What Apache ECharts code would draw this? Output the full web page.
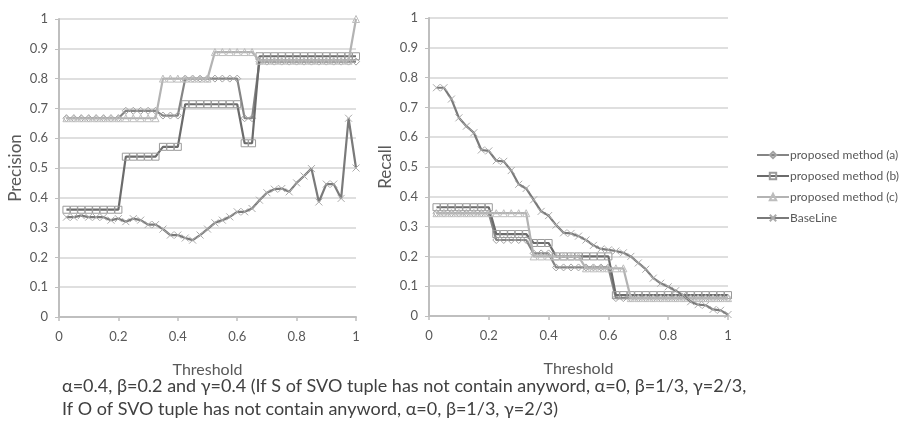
<!DOCTYPE html>
<html>
<head>
<meta charset="utf-8">
<script src="https://cdn.jsdelivr.net/npm/echarts@6/dist/echarts.min.js"></script>
<style>
  html, body { margin: 0; padding: 0; background: #fff; }
  #main { width: 900px; height: 423px; }
</style>
</head>
<body>
<div id="main"></div>
<script>
// threshold steps on the x axis
var thresholds = [0.025, 0.05, 0.075, 0.1, 0.125, 0.15, 0.175, 0.2, 0.225, 0.25,
  0.275, 0.3, 0.325, 0.35, 0.375, 0.4, 0.425, 0.45, 0.475, 0.5,
  0.525, 0.55, 0.575, 0.6, 0.625, 0.65, 0.675, 0.7, 0.725, 0.75,
  0.775, 0.8, 0.825, 0.85, 0.875, 0.9, 0.925, 0.95, 0.975, 1];

var seriesNames = ['proposed method (a)', 'proposed method (b)', 'proposed method (c)', 'BaseLine'];

// precision (left chart)
var precisionA = [0.667, 0.667, 0.667, 0.667, 0.667, 0.667, 0.667, 0.667, 0.692, 0.692,
  0.692, 0.692, 0.692, 0.676, 0.676, 0.676, 0.8, 0.8, 0.8, 0.8,
  0.8, 0.8, 0.8, 0.8, 0.667, 0.667, 0.857, 0.857, 0.857, 0.857,
  0.857, 0.857, 0.857, 0.857, 0.857, 0.857, 0.857, 0.857, 0.857, 0.857];
var precisionB = [0.36, 0.36, 0.36, 0.36, 0.36, 0.36, 0.36, 0.36, 0.538, 0.538,
  0.538, 0.538, 0.538, 0.571, 0.571, 0.571, 0.714, 0.714, 0.714, 0.714,
  0.714, 0.714, 0.714, 0.714, 0.583, 0.583, 0.875, 0.875, 0.875, 0.875,
  0.875, 0.875, 0.875, 0.875, 0.875, 0.875, 0.875, 0.875, 0.875, 0.875];
var precisionC = [0.667, 0.667, 0.667, 0.667, 0.667, 0.667, 0.667, 0.667, 0.667, 0.667,
  0.667, 0.667, 0.667, 0.8, 0.8, 0.8, 0.8, 0.8, 0.8, 0.8,
  0.889, 0.889, 0.889, 0.889, 0.889, 0.889, 0.86, 0.86, 0.86, 0.86,
  0.86, 0.86, 0.86, 0.86, 0.86, 0.86, 0.86, 0.86, 0.86, 1];
var precisionBase = [0.335, 0.335, 0.34, 0.335, 0.335, 0.335, 0.325, 0.33, 0.32, 0.33,
  0.325, 0.31, 0.31, 0.295, 0.275, 0.275, 0.265, 0.258, 0.275, 0.295,
  0.316, 0.325, 0.336, 0.353, 0.353, 0.364, 0.392, 0.417, 0.429, 0.431,
  0.42, 0.45, 0.473, 0.498, 0.386, 0.446, 0.446, 0.398, 0.667, 0.5];

// recall (right chart)
var recallA = [0.345, 0.345, 0.345, 0.345, 0.345, 0.345, 0.345, 0.345, 0.255, 0.255,
  0.255, 0.255, 0.255, 0.21, 0.21, 0.21, 0.163, 0.163, 0.163, 0.163,
  0.163, 0.163, 0.163, 0.163, 0.06, 0.06, 0.06, 0.06, 0.06, 0.06,
  0.06, 0.06, 0.06, 0.06, 0.06, 0.06, 0.06, 0.06, 0.06, 0.06];
var recallB = [0.365, 0.365, 0.365, 0.365, 0.365, 0.365, 0.365, 0.365, 0.275, 0.275,
  0.275, 0.275, 0.275, 0.245, 0.245, 0.245, 0.2, 0.2, 0.2, 0.2,
  0.2, 0.2, 0.2, 0.2, 0.07, 0.07, 0.07, 0.07, 0.07, 0.07,
  0.07, 0.07, 0.07, 0.07, 0.07, 0.07, 0.07, 0.07, 0.07, 0.07];
var recallC = [0.345, 0.345, 0.345, 0.345, 0.345, 0.345, 0.345, 0.345, 0.345, 0.345,
  0.345, 0.345, 0.345, 0.2, 0.2, 0.2, 0.2, 0.2, 0.2, 0.2,
  0.16, 0.16, 0.16, 0.16, 0.16, 0.16, 0.06, 0.06, 0.06, 0.06,
  0.06, 0.06, 0.06, 0.06, 0.06, 0.06, 0.06, 0.06, 0.06, 0.06];
var recallBase = [0.766, 0.766, 0.728, 0.665, 0.637, 0.615, 0.557, 0.554, 0.521, 0.519,
  0.488, 0.442, 0.428, 0.39, 0.351, 0.337, 0.305, 0.279, 0.277, 0.268,
  0.255, 0.237, 0.225, 0.222, 0.218, 0.212, 0.2, 0.178, 0.157, 0.127,
  0.11, 0.098, 0.085, 0.07, 0.048, 0.038, 0.036, 0.022, 0.019, 0.005];

var captionLines = [
  'α=0.4, β=0.2 and γ=0.4 (If S of SVO tuple has not contain anyword, α=0, β=1/3, γ=2/3,',
  'If O of SVO tuple has not contain anyword, α=0, β=1/3, γ=2/3)'
];

// look of each method: line colour, marker
var styles = [
  { line: '#858585', mark: '#a3a3a3', symbol: 'diamond', size: 7 },
  { line: '#6b6b6b', mark: '#9a9a9a', symbol: 'rect', size: 7 },
  { line: '#b3b3b3', mark: '#bdbdbd', symbol: 'triangle', size: 7 },
  { line: '#7a7a7a', mark: '#ababab', symbol: 'path://M0,0L10,10M10,0L0,10', size: 7 }
];

var font = 'Lato, "Open Sans", sans-serif';
var labelColor = '#595959';

function pairs(values) {
  var out = [];
  for (var i = 0; i < thresholds.length; i++) {
    out.push([thresholds[i], values[i]]);
  }
  return out;
}

function makeSeries(idx, values, axisIdx) {
  var s = styles[idx];
  return {
    name: seriesNames[idx],
    type: 'line',
    xAxisIndex: axisIdx,
    yAxisIndex: axisIdx,
    data: pairs(values),
    symbol: s.symbol,
    symbolSize: s.size,
    showSymbol: true,
    lineStyle: { color: s.line, width: 2.2 },
    itemStyle: { color: 'rgba(255,255,255,0)', borderColor: s.mark, borderWidth: 1 },
    emphasis: { disabled: true },
    z: 2 + idx
  };
}

function xAxisOf(gridIdx) {
  return {
    type: 'value',
    gridIndex: gridIdx,
    min: 0,
    max: 1,
    interval: 0.2,
    name: 'Threshold',
    nameLocation: 'middle',
    nameGap: 45,
    nameTextStyle: { color: labelColor, fontSize: 16, fontFamily: font },
    axisLine: { lineStyle: { color: '#bfbfbf', width: 2 } },
    axisTick: { show: true, length: 4, lineStyle: { color: '#bfbfbf', width: 1.5 } },
    axisLabel: { color: labelColor, fontSize: 13, fontFamily: font, margin: 13 },
    splitLine: { show: false }
  };
}

function yAxisOf(gridIdx, name) {
  return {
    type: 'value',
    gridIndex: gridIdx,
    min: 0,
    max: 1,
    interval: 0.1,
    name: name,
    nameLocation: 'middle',
    nameGap: 35,
    nameTextStyle: { color: labelColor, fontSize: 17, fontFamily: font },
    axisLine: { show: true, lineStyle: { color: '#bfbfbf', width: 2 } },
    axisTick: { show: true, length: 4, lineStyle: { color: '#bfbfbf', width: 1 } },
    axisLabel: { color: labelColor, fontSize: 13, fontFamily: font, margin: 11 },
    splitLine: { show: true, lineStyle: { color: '#d4d4d4', width: 1.5 } }
  };
}

var chart = echarts.init(document.getElementById('main'), null, { renderer: 'canvas' });

var option = {
  backgroundColor: '#ffffff',
  animation: false,
  grid: [
    { left: 59, top: 19, width: 297, height: 298 },
    { left: 429, top: 18, width: 299, height: 298 }
  ],
  xAxis: [xAxisOf(0), xAxisOf(1)],
  yAxis: [yAxisOf(0, 'Precision'), yAxisOf(1, 'Recall')],
  legend: {
    orient: 'vertical',
    left: 751,
    top: 144,
    itemWidth: 32,
    itemHeight: 8,
    itemGap: 9,
    selectedMode: false,
    textStyle: { color: labelColor, fontSize: 12, fontFamily: font, padding: [0, 0, 0, -4] },
    data: seriesNames
  },
  graphic: [{
    type: 'text',
    left: 62,
    top: 375,
    style: {
      text: captionLines.join('\n'),
      fill: '#404040',
      font: '18px ' + font,
      lineHeight: 23
    }
  }],
  series: [
    makeSeries(0, precisionA, 0),
    makeSeries(1, precisionB, 0),
    makeSeries(2, precisionC, 0),
    makeSeries(3, precisionBase, 0),
    makeSeries(0, recallA, 1),
    makeSeries(1, recallB, 1),
    makeSeries(2, recallC, 1),
    makeSeries(3, recallBase, 1)
  ]
};

chart.setOption(option);
</script>
</body>
</html>
